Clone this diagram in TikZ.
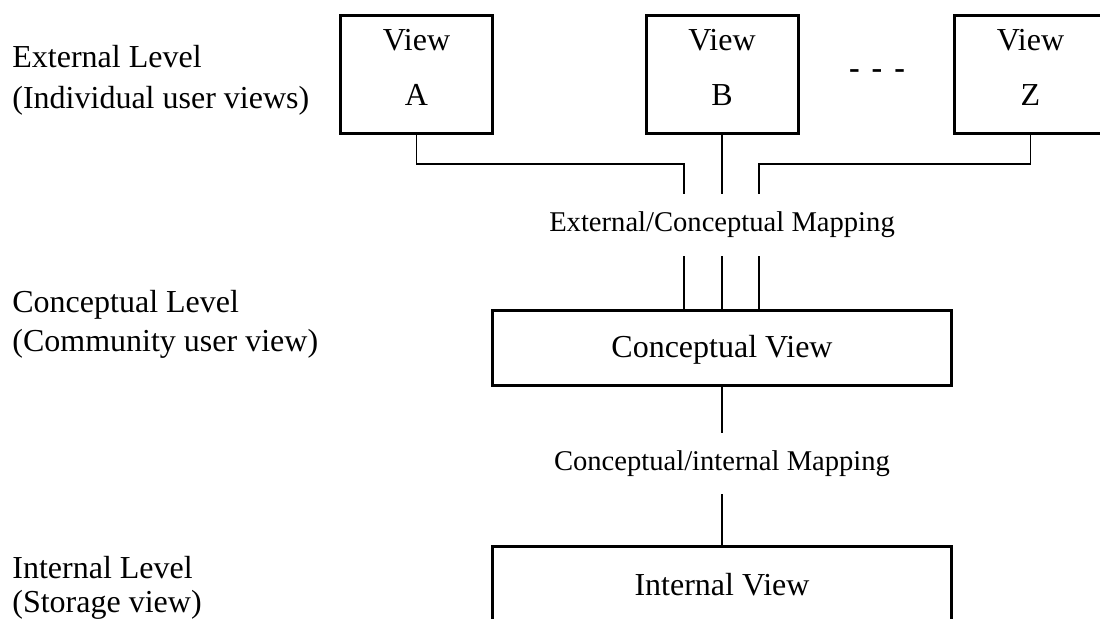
\documentclass[tikz,border=0pt]{standalone}
\usepackage{fontspec}
\setmainfont{Liberation Serif}
\begin{document}
\begin{tikzpicture}[x=0.5pt,y=-0.5pt,
  viewbox/.style={draw,line width=1.5pt,minimum width=76pt,minimum height=59pt,inner sep=0pt},
  levelbox/.style={draw,line width=1.5pt,minimum width=229.5pt,minimum height=37.5pt,inner sep=0pt},
  maintext/.style={font=\fontsize{16}{19}\selectfont,inner sep=0pt},
  maptext/.style={font=\fontsize{14.3}{17}\selectfont,inner sep=0pt,minimum width=180pt},
  levellabel/.style={font=\fontsize{16}{19}\selectfont,inner sep=0pt,anchor=base west},
  link/.style={line width=0.9pt}]
\useasboundingbox (0,0) rectangle (1100,619);
\clip (0,0) rectangle (1100,619);

% level names on the left
\node[levellabel] (ext1) at (12,68) {External Level};
\node[levellabel] (ext2) at (12,109) {(Individual user views)};
\node[levellabel] (con1) at (12,313) {Conceptual Level};
\node[levellabel] (con2) at (12,352) {(Community user view)};
\node[levellabel] (int1) at (12,579) {Internal Level};
\node[levellabel] (int2) at (12,613) {(Storage view)};

% external views
\foreach \v/\x in {A/416.5,B/722,Z/1030.5}{
  \node[viewbox] (\v) at (\x,74.5) {};
  \node[maintext,anchor=base] (\v t1) at (\x,51) {View};
  \node[maintext,anchor=base] (\v t2) at (\x,105.5) {\v};
}
\node[maintext,anchor=base,font=\fontsize{16}{19}\selectfont\bfseries] (dots) at (877,79) {-\hspace{6pt}-\hspace{6pt}-};

% mapping labels
\node[maptext,minimum height=31pt] (map1) at (722,225) {External/Conceptual Mapping};
\node[maptext,minimum height=30.5pt] (map2) at (722,463.5) {Conceptual/internal Mapping};

% conceptual and internal views
\node[levelbox] (C) at (722,348) {};
\node[maintext] (Ct) at (722,350) {Conceptual View};
\node[levelbox,minimum height=60pt] (I) at (722,606.5) {};
\node[maintext] (It) at (722,585) {Internal View};

% external/conceptual connectors
\coordinate (jA) at (684,164);
\coordinate (jZ) at (759,164);
\draw[link] (A.south) |- (jA) -- (jA |- map1.north);
\draw[link] (B.south) -- (map1.north);
\draw[link] (Z.south) |- (jZ) -- (jZ |- map1.north);
\draw[link] (jA |- map1.south) -- (jA |- C.north);
\draw[link] (map1.south) -- (C.north);
\draw[link] (jZ |- map1.south) -- (jZ |- C.north);

% conceptual/internal connector
\draw[link] (C.south) -- (map2.north);
\draw[link] (map2.south) -- (I.north);
\end{tikzpicture}
\end{document}
